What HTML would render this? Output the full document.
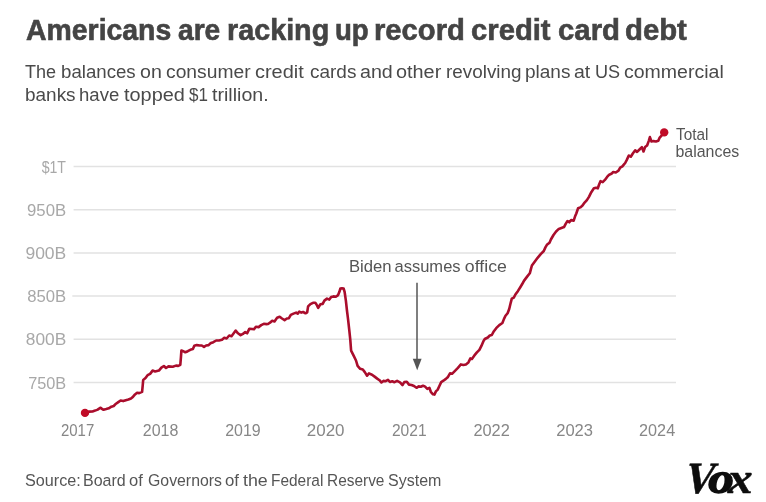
<!DOCTYPE html>
<html><head><meta charset="utf-8">
<style>
html,body{margin:0;padding:0;background:#fff;}
body{width:766px;height:502px;position:relative;overflow:hidden;font-family:"Liberation Sans",sans-serif;}
.ln{position:absolute;white-space:nowrap;margin:0;line-height:1;transform-origin:0 100%;width:766px;}
.ln span{position:absolute;top:0;transform-origin:0 0;}
#title{left:0;top:15.6px;transform:scaleY(1.05);font-size:28.5px;font-weight:bold;color:#444;-webkit-text-stroke:0.6px #444;height:26px;}
#sub1{left:0;top:62.9px;transform:scaleY(1.05);font-size:18px;color:#4a4a4a;height:18px;}
#sub2{left:0;top:86.3px;transform:scaleY(1.04);font-size:18px;color:#4a4a4a;height:18px;}
#src{left:0;top:473.2px;transform:scaleY(1.04);font-size:15.6px;color:#555;height:15.6px;}
#vox{position:absolute;left:687px;top:455.5px;font-family:"Liberation Serif",serif;font-weight:bold;font-size:44.5px;line-height:1;color:#0d0d0d;white-space:nowrap;-webkit-text-stroke:0.5px #0d0d0d;}
#vox b{display:inline-block;font-weight:bold;transform:skewX(-14deg) scaleX(0.92);transform-origin:50% 65%;margin-left:-4px;}
#vox i{display:inline-block;font-style:italic;}
#vox .o{transform:scaleX(1.15);margin-left:-5.5px;-webkit-text-stroke:1.4px #0d0d0d;}
#vox .x{transform:scaleX(1.12);margin-left:-3px;}
svg{position:absolute;left:0;top:0;}
.yl{font-size:16.4px;fill:#a8a8a8;text-anchor:end;}
.xl{font-size:16px;fill:#878787;text-anchor:middle;}
.an{font-size:15.5px;fill:#555;}
</style></head><body>
<div id="title" class="ln"><span style="left:25.59px;transform:scaleX(0.9968)">Americans</span> <span style="left:177.67px;transform:scaleX(0.9882)">are</span> <span style="left:227.41px;transform:scaleX(1.0083)">racking</span> <span style="left:334.59px;transform:scaleX(0.9692)">up</span> <span style="left:374.28px;transform:scaleX(1.0242)">record</span> <span style="left:470.86px;transform:scaleX(1.0256)">credit</span> <span style="left:557.85px;transform:scaleX(1.0296)">card</span> <span style="left:625.20px;transform:scaleX(1.0283)">debt</span></div>
<div id="sub1" class="ln"><span style="left:25.09px;transform:scaleX(1.0029)">The</span> <span style="left:61.00px;transform:scaleX(1.0364)">balances</span> <span style="left:140.08px;transform:scaleX(1.0886)">on</span> <span style="left:165.68px;transform:scaleX(1.0697)">consumer</span> <span style="left:255.35px;transform:scaleX(1.1086)">credit</span> <span style="left:309.79px;transform:scaleX(1.0540)">cards</span> <span style="left:359.86px;transform:scaleX(1.0922)">and</span> <span style="left:395.97px;transform:scaleX(1.1033)">other</span> <span style="left:445.95px;transform:scaleX(1.0491)">revolving</span> <span style="left:524.78px;transform:scaleX(1.0553)">plans</span> <span style="left:573.87px;transform:scaleX(1.0839)">at</span> <span style="left:594.50px;transform:scaleX(1.0048)">US</span> <span style="left:624.37px;transform:scaleX(1.0839)">commercial</span></div>
<div id="sub2" class="ln"><span style="left:24.68px;transform:scaleX(1.0536)">banks</span> <span style="left:79.01px;transform:scaleX(1.0302)">have</span> <span style="left:124.00px;transform:scaleX(1.1059)">topped</span> <span style="left:189.42px;transform:scaleX(0.9446)">$1</span> <span style="left:212.30px;transform:scaleX(1.0899)">trillion.</span></div>
<svg width="766" height="502" viewBox="0 0 766 502">
<g stroke="#e2e2e2" stroke-width="1.5">
<line x1="73.6" x2="676" y1="166.5" y2="166.5"/>
<line x1="73.6" x2="676" y1="209.7" y2="209.7"/>
<line x1="73.6" x2="676" y1="252.9" y2="252.9"/>
<line x1="72.3" x2="676" y1="296.1" y2="296.1"/>
<line x1="73.6" x2="676" y1="339.3" y2="339.3"/>
<line x1="73.6" x2="676" y1="382.5" y2="382.5"/>
</g>
<text class="yl" style="text-anchor:start" transform="translate(41.65 172.65) scale(0.8626 1.01)">$1T</text>
<text class="yl" style="text-anchor:start" transform="translate(27.01 215.85) scale(1.0227 1.01)">950B</text>
<text class="yl" style="text-anchor:start" transform="translate(25.38 259.05) scale(1.0691 1.01)">900B</text>
<text class="yl" style="text-anchor:start" transform="translate(27.27 302.25) scale(1.0184 1.01)">850B</text>
<text class="yl" style="text-anchor:start" transform="translate(25.85 345.45) scale(1.0565 1.01)">800B</text>
<text class="yl" style="text-anchor:start" transform="translate(28.16 388.65) scale(0.9947 1.01)">750B</text>
<text class="xl" style="text-anchor:start" transform="translate(60.95 436) scale(0.9357 1.04)">2017</text>
<text class="xl" style="text-anchor:start" transform="translate(142.80 436) scale(1.0002 1.04)">2018</text>
<text class="xl" style="text-anchor:start" transform="translate(225.20 436) scale(0.9991 1.04)">2019</text>
<text class="xl" style="text-anchor:start" transform="translate(306.85 436) scale(1.0596 1.04)">2020</text>
<text class="xl" style="text-anchor:start" transform="translate(391.92 436) scale(0.9733 1.04)">2021</text>
<text class="xl" style="text-anchor:start" transform="translate(473.38 436) scale(1.0240 1.04)">2022</text>
<text class="xl" style="text-anchor:start" transform="translate(556.17 436) scale(1.0356 1.04)">2023</text>
<text class="xl" style="text-anchor:start" transform="translate(639.08 436) scale(1.0140 1.04)">2024</text>
<text class="an" transform="translate(348.93 271.6) scale(1.0759 1.04)">Biden</text>
<text class="an" transform="translate(394.50 271.6) scale(1.0657 1.04)">assumes</text>
<text class="an" transform="translate(464.86 271.6) scale(1.1426 1.04)">office</text>
<line x1="417" x2="417" y1="282.7" y2="360" stroke="#555" stroke-width="1.5"/>
<path d="M412.8 358.7 L421.6 358.7 L417.2 370.2 Z" fill="#555"/>
<path d="M85.3 412.9 L89.2 411.6 L92.5 411.5 L95.1 410.6 L97.7 409.6 L100.3 407.7 L102.0 408.8 L103.6 409.8 L106.2 409.1 L108.8 408.3 L111.4 406.7 L113.7 406.0 L116.0 403.7 L118.3 402.1 L120.6 400.5 L123.2 401.1 L125.8 400.2 L128.4 399.5 L131.0 398.5 L132.5 397.3 L135.0 394.4 L137.1 392.7 L139.2 393.1 L142.1 391.9 L142.7 385.6 L143.2 379.9 L145.5 378.1 L147.6 375.2 L150.1 373.9 L152.6 370.6 L155.1 371.4 L158.9 370.6 L161.4 367.6 L163.9 366.0 L166.0 368.0 L168.5 366.4 L172.7 366.8 L176.0 365.6 L178.2 365.9 L180.3 364.8 L180.9 357.7 L181.4 350.5 L183.2 351.2 L185.3 352.3 L187.8 351.2 L190.3 349.8 L192.9 349.1 L194.3 345.8 L196.8 345.1 L199.7 345.5 L201.8 345.5 L204.0 346.9 L206.1 345.5 L208.6 345.1 L210.4 343.3 L213.3 342.2 L216.2 340.5 L219.0 340.5 L222.0 339.8 L224.3 337.8 L226.6 338.5 L229.2 335.5 L231.5 336.2 L233.7 333.3 L235.7 330.6 L238.0 333.3 L240.6 335.2 L242.9 333.9 L245.2 332.0 L247.1 333.3 L249.4 328.7 L252.0 329.0 L254.0 329.3 L255.9 326.7 L258.6 327.1 L261.2 325.1 L263.8 323.8 L266.4 324.1 L268.0 324.0 L270.0 322.7 L272.2 320.8 L274.5 321.4 L277.1 317.8 L279.7 316.8 L282.0 318.5 L284.6 320.1 L286.9 318.5 L288.9 318.2 L290.8 314.9 L293.5 313.6 L296.1 312.6 L297.7 313.6 L299.3 311.6 L301.3 312.6 L303.2 312.0 L305.5 313.3 L307.2 312.3 L308.1 306.4 L310.4 304.1 L313.0 302.8 L315.3 302.8 L316.5 304.5 L318.2 307.8 L320.4 304.2 L322.7 303.9 L324.4 300.6 L327.0 298.6 L329.3 299.6 L331.2 297.0 L333.5 296.4 L335.8 296.7 L338.1 295.1 L339.4 291.8 L340.4 288.5 L342.0 288.2 L343.6 288.5 L344.6 291.8 L345.9 300.9 L346.9 310.0 L348.1 319.6 L349.3 330.3 L350.3 339.9 L351.1 350.6 L353.5 355.4 L356.0 360.5 L357.6 365.9 L360.2 368.8 L362.8 369.5 L364.8 372.1 L367.1 375.7 L369.0 373.4 L372.0 374.7 L374.6 376.6 L377.2 378.6 L379.5 380.2 L381.4 382.5 L383.4 380.9 L385.7 381.2 L388.0 379.9 L389.9 381.9 L392.2 381.2 L394.5 382.2 L397.1 380.9 L400.0 382.3 L402.5 385.0 L404.3 382.1 L406.8 381.7 L409.0 384.6 L411.5 385.0 L414.0 386.0 L416.5 387.8 L418.7 386.4 L420.8 386.7 L423.0 385.7 L425.1 386.7 L427.3 388.9 L429.4 387.8 L430.8 391.8 L433.0 394.3 L434.4 394.6 L435.9 391.4 L437.7 389.6 L439.5 385.7 L441.2 382.1 L443.4 380.7 L445.9 378.9 L447.7 377.3 L450.0 373.3 L452.0 373.8 L455.0 370.8 L457.9 367.8 L460.9 364.4 L463.4 364.9 L465.9 364.4 L468.4 362.4 L470.4 358.4 L471.9 358.9 L474.4 355.4 L476.9 352.4 L479.4 349.9 L481.4 345.9 L483.3 341.4 L484.8 339.0 L487.8 337.5 L489.8 335.5 L491.8 335.0 L493.5 331.8 L496.2 328.2 L499.3 325.1 L502.4 323.0 L504.0 318.9 L505.5 315.8 L507.6 313.2 L509.2 309.0 L510.7 302.8 L511.8 298.7 L513.8 297.6 L515.4 294.5 L518.0 290.9 L520.6 286.7 L522.5 283.5 L524.1 280.6 L527.3 276.4 L529.8 273.3 L530.9 269.2 L531.9 265.5 L534.5 261.9 L537.6 257.8 L540.7 254.1 L543.8 251.0 L545.4 247.4 L546.9 244.8 L549.5 242.7 L550.9 239.5 L553.5 235.0 L556.1 231.5 L558.8 228.9 L561.4 228.0 L564.0 227.1 L565.8 223.6 L567.5 221.0 L569.3 222.3 L571.1 220.1 L573.7 220.6 L575.0 216.6 L576.3 213.5 L578.1 208.3 L580.3 207.4 L582.5 205.6 L584.6 202.6 L586.9 200.1 L589.1 196.6 L591.3 192.2 L593.9 188.3 L596.1 187.8 L597.8 188.3 L599.2 184.3 L600.5 181.2 L602.7 182.1 L604.9 179.9 L607.1 176.9 L609.2 174.7 L611.4 173.8 L613.2 172.0 L615.8 172.5 L618.5 170.7 L620.2 167.6 L622.4 166.3 L624.0 164.4 L625.2 163.0 L626.8 159.9 L628.8 155.5 L630.8 156.7 L632.8 153.5 L635.2 150.3 L637.1 151.9 L639.5 149.5 L641.9 147.1 L643.5 151.5 L645.1 147.1 L647.1 145.5 L648.7 141.1 L649.9 137.1 L651.5 141.5 L653.5 141.1 L655.9 141.5 L658.3 140.7 L659.5 137.9 L661.5 135.6 L664.2 132.4" fill="none" stroke="#aa0d2c" stroke-width="2.6" stroke-linejoin="round" stroke-linecap="round"/>
<circle cx="85" cy="412.9" r="4.2" fill="#c00b27"/>
<circle cx="664.2" cy="132.4" r="4.2" fill="#c00b27"/>
<text class="an" transform="translate(675.95 139.8) scale(0.9917 1.04)">Total</text>
<text class="an" transform="translate(675.47 156.8) scale(1.0283 1.04)">balances</text>
</svg>
<div id="src" class="ln"><span style="left:24.76px;transform:scaleX(1.0382)">Source:</span> <span style="left:83.39px;transform:scaleX(1.0269)">Board</span> <span style="left:129.41px;transform:scaleX(1.0583)">of</span> <span style="left:147.60px;transform:scaleX(1.0157)">Governors</span> <span style="left:225.00px;transform:scaleX(1.0745)">of</span> <span style="left:242.93px;transform:scaleX(1.1418)">the</span> <span style="left:271.03px;transform:scaleX(0.9907)">Federal</span> <span style="left:326.93px;transform:scaleX(0.9890)">Reserve</span> <span style="left:388.37px;transform:scaleX(1.0264)">System</span></div>
<div id="vox"><b>V</b><i class="o">o</i><i class="x">x</i></div>
</body></html>
